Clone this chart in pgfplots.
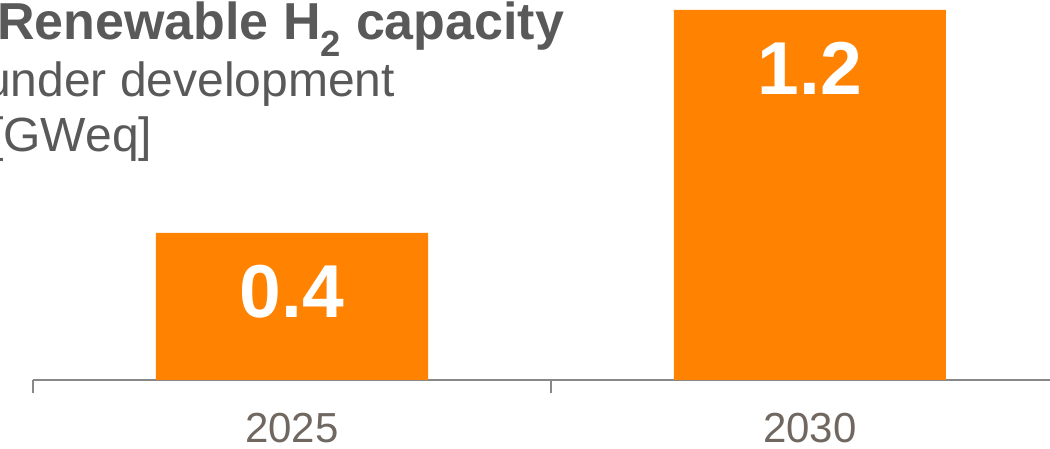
\documentclass[border=0pt]{standalone}
\usepackage{pgfplots}
\pgfplotsset{compat=1.18}
\usepackage{pgfplotstable}
\usepackage{fontspec}
\setmainfont{Liberation Sans}
\definecolor{barorange}{RGB}{255,130,0}
\definecolor{titlegray}{RGB}{89,89,89}
\definecolor{ticklab}{RGB}{112,103,96}
\definecolor{axgray}{RGB}{136,136,136}

\pgfplotstableread{
x  y     lab
0  0.477 0.4
1  1.2   1.2
}\capdata

\begin{document}
\begin{tikzpicture}[x=1pt,y=1pt]
\useasboundingbox (0,0) rectangle (1050,449);
\clip (0,0) rectangle (1050,449);
\begin{axis}[
  at={(33pt,69pt)}, anchor=south west,
  scale only axis, width=1036pt, height=370pt,
  xmin=-0.5, xmax=1.5, ymin=0, ymax=1.2,
  axis y line=none, axis x line*=bottom,
  x axis line style={axgray, line width=2pt},
  xtick={0,1}, xticklabels={2025,2030},
  major tick length=0pt,
  extra x ticks={-0.5,0.5,1.5}, extra x tick labels={},
  extra x tick style={major tick length=13pt, tick align=outside,
    tick style={axgray, line width=1.5pt}},
  xticklabel style={font=\fontsize{42}{42}\selectfont, text=ticklab, anchor=base, yshift=-63pt},
  clip=false,
]
\addplot[ybar, bar width=272pt, fill=barorange, draw=none,
  point meta=explicit symbolic,
  nodes near coords,
  nodes near coords style={anchor=base, yshift=-85pt, text=white,
    font=\fontsize{75}{75}\selectfont\bfseries},
] table[x=x, y=y, meta=lab] {\capdata};
\end{axis}
\node[anchor=base west, inner sep=0, text=titlegray, font=\fontsize{52}{52}\selectfont\bfseries] at (-3,409) {Renewable H\textsubscript{2} capacity};
\node[anchor=base west, inner sep=0, text=titlegray, font=\fontsize{48}{48}\selectfont] at (-16,352) {under development};
\node[anchor=base west, inner sep=0, text=titlegray, font=\fontsize{48}{48}\selectfont] at (-10,297) {[GWeq]};
\end{tikzpicture}
\end{document}
